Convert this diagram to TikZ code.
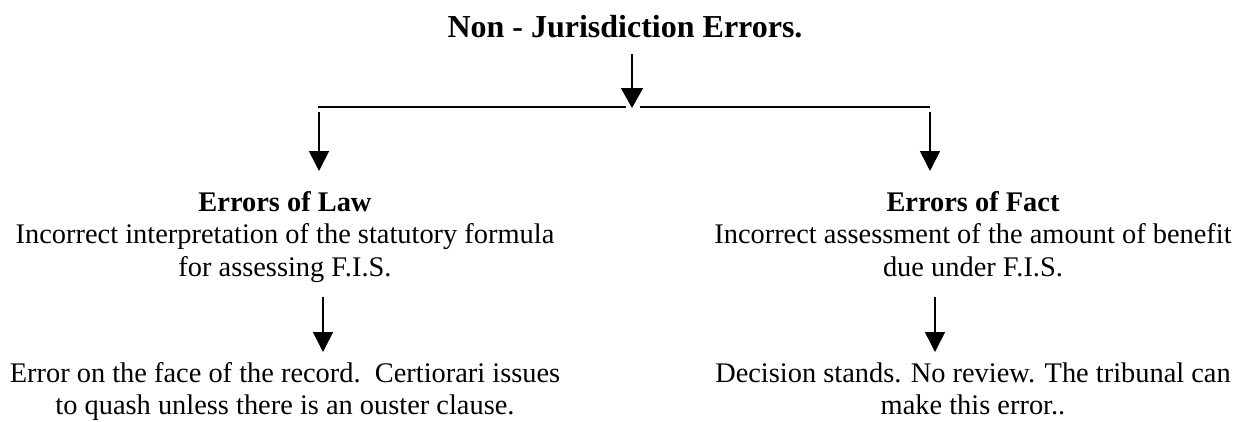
\documentclass[tikz,border=0pt]{standalone}
\usepackage{fontspec}
\setmainfont{Liberation Serif}
\usetikzlibrary{arrows.meta}
\begin{document}
\begin{tikzpicture}[x=1pt,y=-1pt,
  txt/.style={inner sep=0pt,font=\fontsize{28.4}{32}\selectfont,anchor=base},
  bld/.style={txt,font=\fontsize{28.4}{32}\selectfont\bfseries},
  ttl/.style={inner sep=0pt,font=\fontsize{32}{36}\selectfont\bfseries,anchor=base},
  arr/.style={line width=1.6pt,-{Triangle[width=20pt,length=20pt]}},
  ln/.style={line width=1.6pt}]
\useasboundingbox (0,0) rectangle (1234,421);
\node[ttl] (title) at (625,37) {Non - Jurisdiction Errors.};
\coordinate (top) at (632,54);
\coordinate (mid) at (632,108);
\coordinate (L) at (318,107);
\coordinate (R) at (930,107);
\coordinate (Ls) at (319,112);
\coordinate (Rs) at (930,112);
\coordinate (Lend) at (319,171);
\coordinate (Rend) at (930,171);
\draw[arr,-{Triangle[width=22pt,length=20pt]}] (top) -- (mid);
\draw[ln] (L) -- (626,107);
\draw[ln] (640,107) -- (R);
\draw[arr] (Ls) -- (Lend);
\draw[arr] (Rs) -- (Rend);
% left column
\node[bld] (law) at (285,211) {Errors of Law};
\node[txt] (law1) at (285,243.5) {Incorrect interpretation of the statutory formula};
\node[txt] (law2) at (285,276) {for assessing F.I.S.};
\coordinate (la) at (323,297);
\coordinate (lb) at (323,352);
\draw[arr] (la) -- (lb);
\node[txt] (lr1) at (285,382) {Error on the face of the record.\ \ Certiorari issues};
\node[txt] (lr2) at (285,414) {to quash unless there is an ouster clause.};
% right column
\node[bld] (fact) at (973,211) {Errors of Fact};
\node[txt] (fact1) at (973,243.5) {Incorrect assessment of the amount of benefit};
\node[txt] (fact2) at (973,276) {due under F.I.S.};
\coordinate (fa) at (935,297);
\coordinate (fb) at (935,352);
\draw[arr] (fa) -- (fb);
\node[txt] (fr1) at (973,382) {Decision stands. No review. The tribunal can};
\node[txt] (fr2) at (973,414) {make this error..};
\end{tikzpicture}
\end{document}
